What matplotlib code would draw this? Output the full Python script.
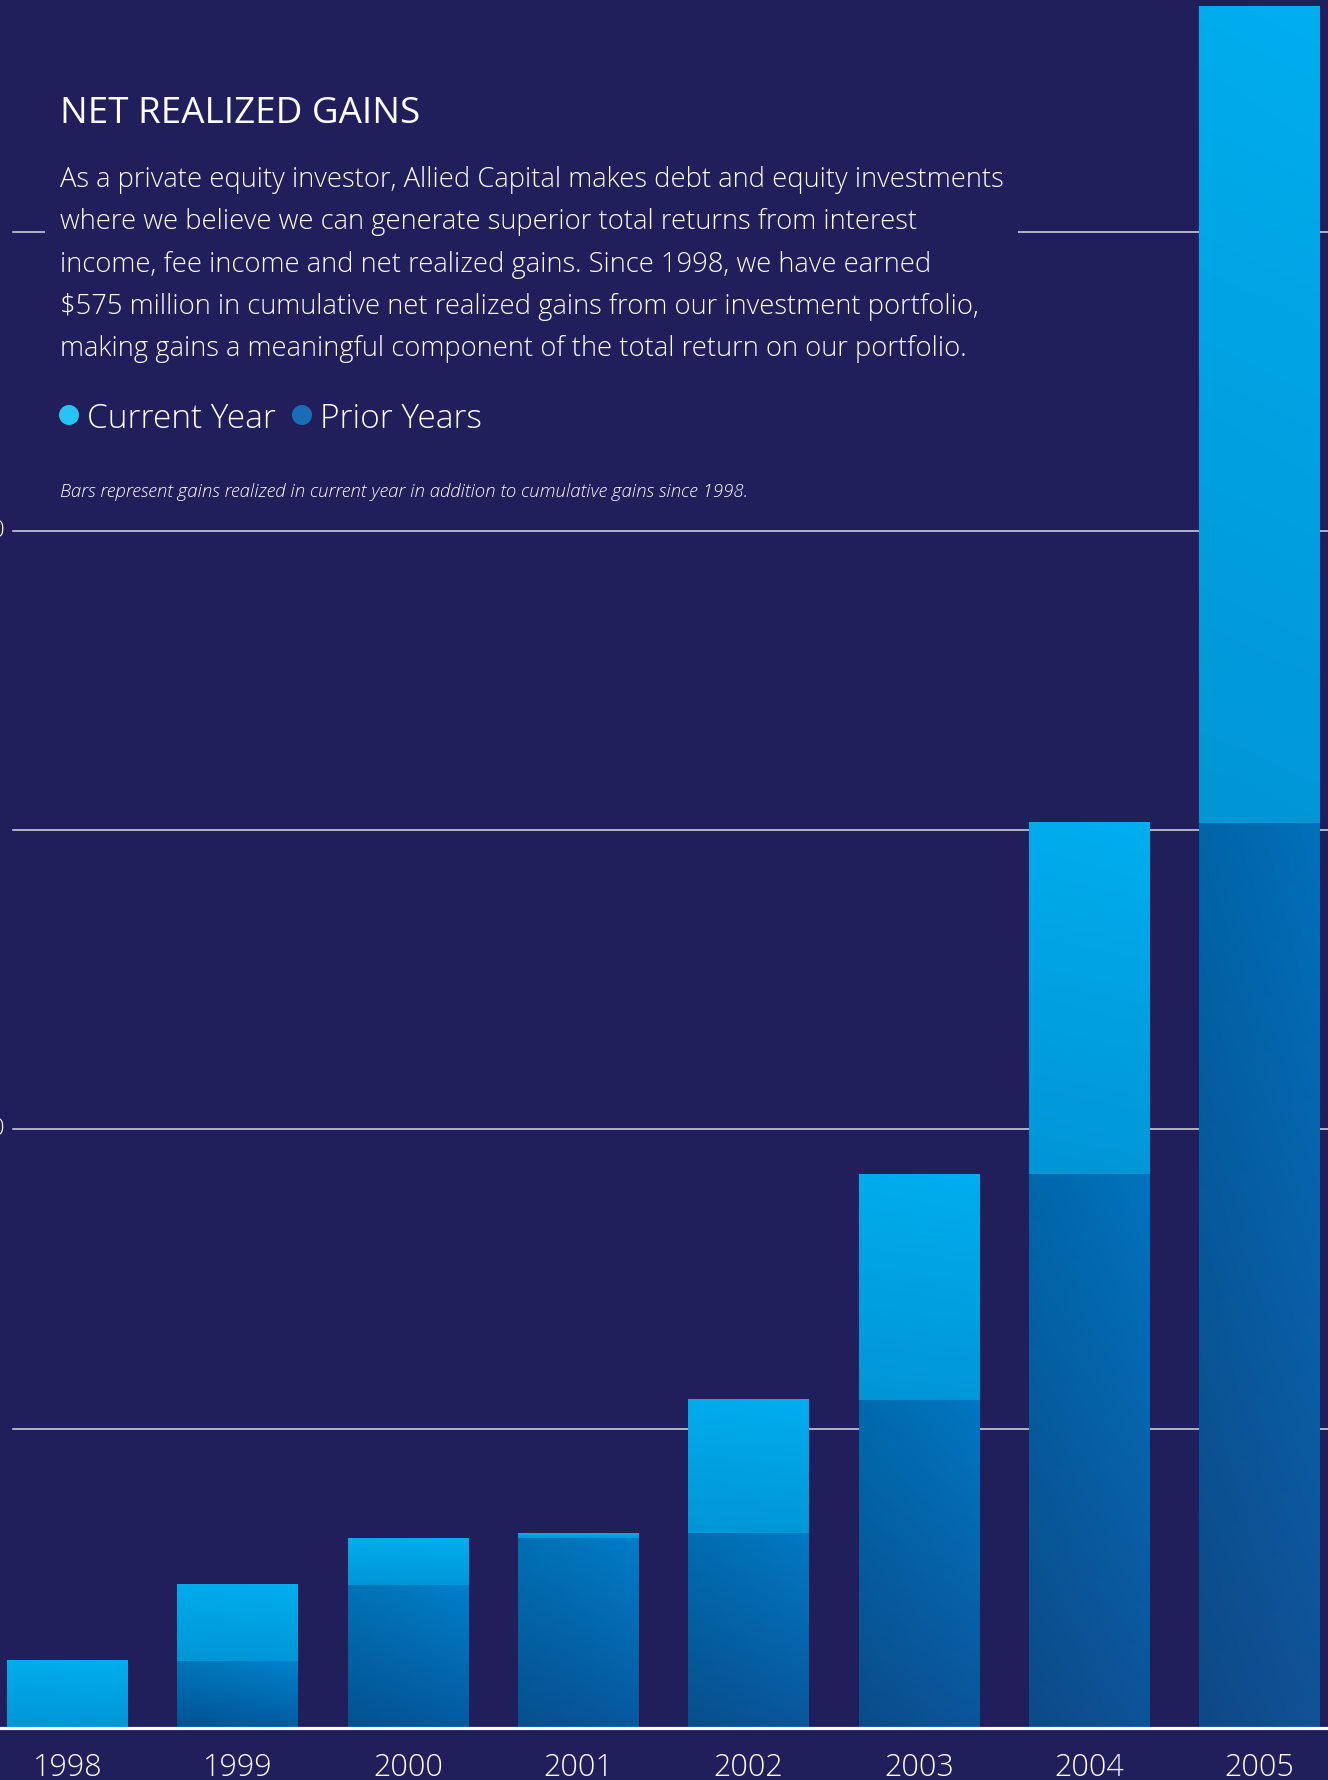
import matplotlib
matplotlib.use("Agg")
import matplotlib.pyplot as plt
import numpy as np
from matplotlib.colors import to_rgb
from matplotlib.lines import Line2D
from matplotlib.patches import Ellipse, Rectangle

# --- data: net realized gains, $ millions ---
years = ["1998", "1999", "2000", "2001", "2002", "2003", "2004", "2005"]
prior_years = [0.0, 22.4, 47.8, 63.4, 65.0, 109.5, 185.0, 302.3]
current_year = [22.4, 25.4, 15.6, 1.6, 44.5, 75.5, 117.3, 272.7]
grid_values = [100, 200, 300, 400, 500]
tick_values = [200, 400]

BG = "#201f5b"
FONT = "Open Sans"
W, H = 1328, 1780

CUR_TOP, CUR_BOT = "#00aeef", "#0097d7"
PRIOR_TOP = ("#0081c9", "#006cb4")   # first bar -> last bar
PRIOR_BOT = ("#005a9d", "#104e90")


def mix(c1, c2, t):
    return (1 - t) * np.array(to_rgb(c1)) + t * np.array(to_rgb(c2))


def gradient_bar(ax, x0, x1, y0, y1, top, bottom, side=(0.93, 1.04)):
    """Fill a rectangle with a top-to-bottom gradient, slightly darker on the left."""
    if y1 <= y0:
        return
    n = 96
    v = np.linspace(0, 1, n)[:, None, None]
    col = np.asarray(top)[None, None, :] * (1 - v) + np.asarray(bottom)[None, None, :] * v
    shade = np.linspace(side[0], side[1], n)[None, :, None]
    img = np.clip(col * shade, 0, 1)
    ax.imshow(img, extent=(x0, x1, y0, y1), origin="upper", aspect="auto",
              interpolation="bilinear", zorder=3)


fig = plt.figure(figsize=(W / 100, H / 100), dpi=100, facecolor=BG)
ax = fig.add_axes([0, (H - 1728) / H, 1, 1728 / H])
ax.set_facecolor(BG)
for s in ax.spines.values():
    s.set_visible(False)
ax.set_xticks([])
ax.set_yticks([])

# grid lines behind the bars (they start a little in from the left edge)
for g in grid_values:
    ax.axhline(g, xmin=13 / W, color="#d8d8e6", lw=1.1, zorder=1)

# panel behind the text block hides the grid under it
fig.add_artist(Rectangle((45 / W, 1 - 515 / H), (1018 - 45) / W, (515 - 60) / H,
                         transform=fig.transFigure, facecolor=BG, edgecolor="none",
                         zorder=1.5))

x = np.arange(len(years))
bw = 0.71
n = len(years)
for i in x:
    t = i / (n - 1)
    x0, x1 = i - bw / 2, i + bw / 2
    p = prior_years[i]
    c = current_year[i]
    gradient_bar(ax, x0, x1, 0, p, mix(*PRIOR_TOP, t), mix(*PRIOR_BOT, t))
    gradient_bar(ax, x0, x1, p, p + c, to_rgb(CUR_TOP), to_rgb(CUR_BOT), side=(0.99, 1.0))

ax.set_xlim(-67.5 / 170.3, 7 + (W - 1259.6) / 170.3)
ax.set_ylim(0, 1728 / 2.993)

# baseline across the full width
fig.add_artist(Line2D([0, 1], [1 - 1728 / H] * 2, transform=fig.transFigure,
                      color="white", lw=2.3, zorder=5))

# year labels
for i, yr in enumerate(years):
    ax.annotate(yr, xy=(i, 0), xycoords="data", xytext=(0, -48),
                textcoords="offset pixels", ha="center", va="baseline",
                color="white", fontsize=22, family=FONT, fontweight="light",
                annotation_clip=False)

# value labels on the left, mostly off the canvas
for v in tick_values:
    ax.annotate(str(v), xy=(13 / W, v), xycoords=("axes fraction", "data"),
                xytext=(-8, 0), textcoords="offset pixels", ha="right", va="center",
                color="white", fontsize=17, family=FONT, fontweight="light",
                annotation_clip=False)

# heading and body copy
fig.text(60 / W, 1 - 123 / H, "NET REALIZED GAINS", color="white", fontsize=26.5,
         family=FONT, va="baseline", zorder=6)
body = [
    "As a private equity investor, Allied Capital makes debt and equity investments",
    "where we believe we can generate superior total returns from interest",
    "income, fee income and net realized gains. Since 1998, we have earned",
    "$575 million in cumulative net realized gains from our investment portfolio,",
    "making gains a meaningful component of the total return on our portfolio.",
]
for k, line in enumerate(body):
    fig.text(60 / W, 1 - (187 + 42.3 * k) / H, line, color="white", fontsize=19.7,
             family=FONT, fontweight="light", va="baseline", zorder=6)

# legend
for cx, col, label in [(69, "#29c3f3", "Current Year"), (302, "#1a6db4", "Prior Years")]:
    fig.add_artist(Ellipse((cx / W, 1 - 415 / H), 20 / W, 20 / H,
                           transform=fig.transFigure, facecolor=col,
                           edgecolor="none", zorder=6))
    fig.text((cx + 18) / W, 1 - 428 / H, label, color="white", fontsize=24,
             family=FONT, fontweight="light", va="baseline", zorder=6)

fig.text(60 / W, 1 - 497 / H,
         "Bars represent gains realized in current year in addition to cumulative gains since 1998.",
         color="white", fontsize=13.4, family=FONT, style="italic", fontweight="light",
         va="baseline", zorder=6)

fig.savefig("out.png", dpi=100, facecolor=BG)
